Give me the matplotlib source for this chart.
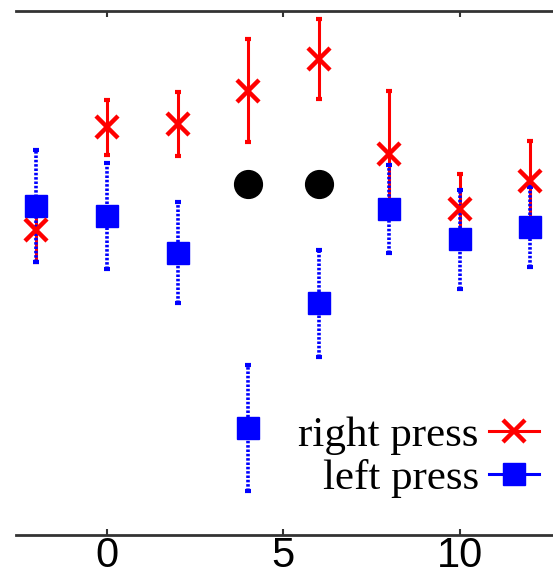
import matplotlib
matplotlib.use("Agg")
import matplotlib.pyplot as plt
from matplotlib.lines import Line2D

# Conditions along the x axis
x_pos = [-2, 0, 2, 4, 6, 8, 10, 12]

# Right-press responses: mean and error
right_mean = [5.82, 7.78, 7.84, 8.48, 9.08, 7.28, 6.22, 6.76]
right_err = [0.61, 0.52, 0.61, 0.98, 0.76, 1.19, 0.67, 0.76]

# Left-press responses: mean and error
left_mean = [6.28, 6.09, 5.39, 2.04, 4.42, 6.22, 5.64, 5.88]
left_err = [1.07, 1.01, 0.96, 1.20, 1.02, 0.84, 0.95, 0.76]

# Marked conditions
mark_x = [4, 6]
mark_y = [6.69, 6.69]

xticks = [0, 5, 10]
labels = ["right press", "left press"]

W, H = 553, 574
fig = plt.figure(figsize=(W / 100, H / 100), dpi=100)
ax = fig.add_axes([16 / W, 39 / H, (570 - 16) / W, 524 / H])

red = "#ff0000"
blue = "#0000ff"

# error bars (red solid, blue dotted drawn over it)
ax.errorbar(x_pos, right_mean, yerr=right_err, fmt="none", ecolor=red,
            elinewidth=2.2, capsize=2.5, capthick=3, zorder=2)
eb_b = ax.errorbar(x_pos, left_mean, yerr=left_err, fmt="none", ecolor=blue,
                   elinewidth=2.6, capsize=2.5, capthick=3, zorder=3)
eb_b.lines[2][0].set_linestyle((0, (0.7, 0.5)))

# markers
ax.plot(x_pos, left_mean, "s", color=blue, markersize=15.5, mec=blue, mew=1,
        linestyle="none", zorder=4)
ax.plot(x_pos, right_mean, "x", color=red, markersize=16, mew=3.2,
        linestyle="none", zorder=5)
ax.plot(mark_x, mark_y, "o", color="black", markersize=20, linestyle="none",
        zorder=5)

ax.set_xlim(-2.58, 13.13)
ax.set_ylim(0, 10)

for side in ("left", "right"):
    ax.spines[side].set_visible(False)
for side in ("top", "bottom"):
    ax.spines[side].set_color("#333333")
    ax.spines[side].set_linewidth(2.0)

ax.set_xticks(xticks)
ax.set_yticks([])
ax.tick_params(axis="x", direction="in", length=4, width=1.5, top=True,
               bottom=True, labeltop=False, pad=1, colors="#333333",
               labelcolor="black")
for lab in ax.get_xticklabels():
    lab.set_fontfamily("Liberation Sans")
    lab.set_fontsize(30)

handles = [
    Line2D([], [], color=red, lw=2.2, marker="x", markersize=16, mew=3.2),
    Line2D([], [], color=blue, lw=2.2, marker="s", markersize=15.5, mew=1),
]
leg = ax.legend(handles, labels, markerfirst=False, frameon=False,
                prop={"family": "Liberation Serif", "size": 31},
                loc="lower right", bbox_to_anchor=(539 / W, 76 / H),
                bbox_transform=fig.transFigure, handlelength=1.15,
                handletextpad=0.25, labelspacing=0.08, borderpad=0,
                borderaxespad=0)

fig.savefig("out.png", dpi=100)
